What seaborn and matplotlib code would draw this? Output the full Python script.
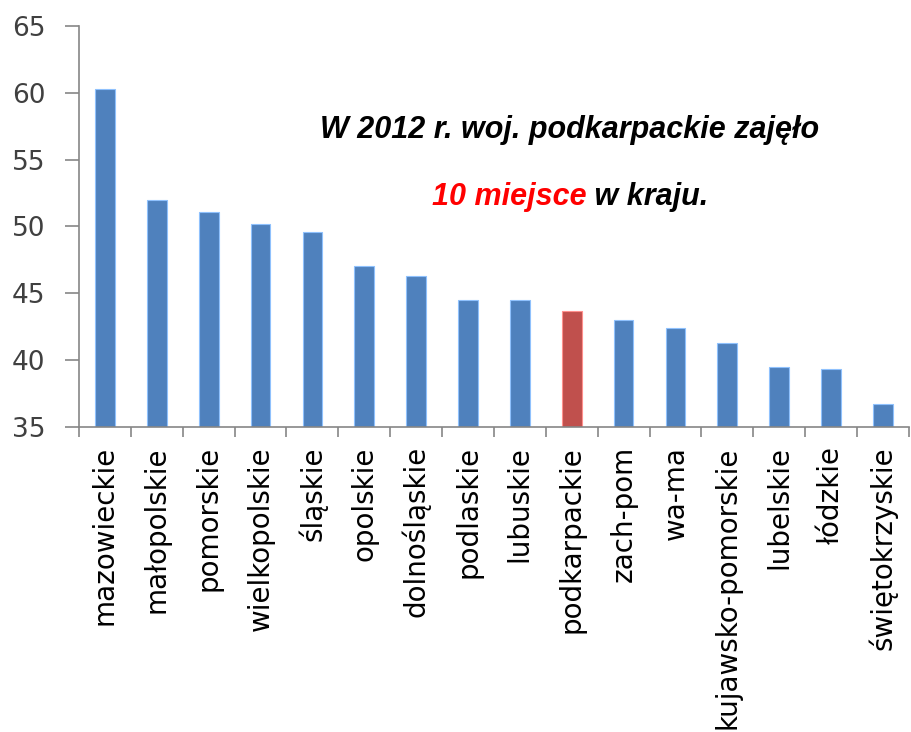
import matplotlib
matplotlib.use("Agg")
import matplotlib.pyplot as plt
import seaborn as sns
import pandas as pd
from matplotlib.offsetbox import TextArea, HPacker, AnnotationBbox

# =========================
# Data
# =========================
regions = [
    'mazowieckie', 'małopolskie', 'pomorskie', 'wielkopolskie', 'śląskie',
    'opolskie', 'dolnośląskie', 'podlaskie', 'lubuskie', 'podkarpackie',
    'zach-pom', 'wa-ma', 'kujawsko-pomorskie', 'lubelskie', 'łódzkie',
    'świętokrzyskie'
]
values = [60.3, 52.0, 51.1, 50.2, 49.6, 47.0, 46.3, 44.5, 44.5, 43.7,
          43.0, 42.4, 41.3, 39.5, 39.3, 36.7]
highlight = 'podkarpackie'
y_ticks = [35, 40, 45, 50, 55, 60, 65]

df = pd.DataFrame({'region': regions, 'value': values})
df['group'] = ['hl' if r == highlight else 'other' for r in regions]

# =========================
# Plot
# =========================
sns.set_style("white")
plt.rcParams['font.family'] = ['DejaVu Sans']

fig = plt.figure(figsize=(9.12, 7.32), dpi=100)
ax = fig.add_axes([0.0866, 0.417, 0.91, 0.5475])

sns.barplot(data=df, x='region', y='value', hue='group',
            palette={'other': '#4F81BD', 'hl': '#C0504D'},
            dodge=False, legend=False, width=0.38, saturation=1, ax=ax)

# light outline on bars, like the original
for p in ax.patches:
    fc = p.get_facecolor()
    p.set_edgecolor(tuple(min(1, c + 0.25) for c in fc[:3]))
    p.set_linewidth(0.8)

ax.set_ylim(35, 65)
ax.set_yticks(y_ticks)
ax.set_xlim(-0.5, len(regions) - 0.5)
ax.set_xlabel('')
ax.set_ylabel('')

# ticks between categories, labels at centres
ax.set_xticks([i - 0.5 for i in range(len(regions) + 1)], minor=True)
ax.set_xticks(range(len(regions)))
ax.set_xticklabels(regions, rotation=90, fontsize=20, color='black')
ax.tick_params(axis='x', which='major', length=0, pad=14)
ax.tick_params(axis='x', which='minor', length=7, width=1.2, color='#868686',
               direction='out', bottom=True)
ax.tick_params(axis='y', labelsize=19, labelcolor='#404040', length=10,
               width=1.2, color='#868686', direction='out', left=True, pad=14)

for side in ['top', 'right']:
    ax.spines[side].set_visible(False)
for side in ['left', 'bottom']:
    ax.spines[side].set_color('#868686')
    ax.spines[side].set_linewidth(1.2)

# annotation text
font = dict(family='Liberation Sans', weight='bold', style='italic', size=22)
fig.text(0.625, 0.822, 'W 2012 r. woj. podkarpackie zajęło',
         ha='center', va='center', color='black', **font)

red = TextArea('10 miejsce', textprops=dict(color='#FF0000', **font))
black = TextArea(' w kraju.', textprops=dict(color='black', **font))
box = HPacker(children=[red, black], align='baseline', pad=0, sep=0)
ab = AnnotationBbox(box, (0.625, 0.731), xycoords='figure fraction',
                    frameon=False, box_alignment=(0.5, 0.5))
fig.add_artist(ab)

plt.savefig('out.png', dpi=100)
